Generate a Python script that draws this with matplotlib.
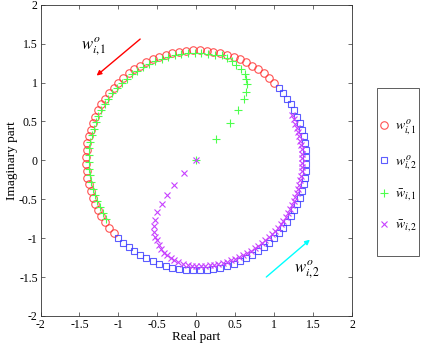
import numpy as np
import matplotlib
matplotlib.use("Agg")
import matplotlib.pyplot as plt
from matplotlib.patches import Rectangle

plt.rcParams['font.family'] = ['Liberation Serif', 'DejaVu Serif']
plt.rcParams['mathtext.fontset'] = 'stix'

# w^o_{i,1}: red circles, polar (deg), radius
wo1_angle = [45, 48.6, 52.2, 55.8, 59.4, 63, 66.6, 70.2, 73.8, 77.4, 81, 84.6, 88.2,
             91.8, 95.4, 99, 102.6, 106.2, 109.8, 113.4, 117, 120.6, 124.2, 127.8,
             131.4, 135, 138.6, 142.2, 145.8, 149.4, 153, 156.6, 160.2, 163.8, 167.4,
             171, 174.6, 178.2, 181.8, 185.4, 189, 192.6, 196.2, 199.8, 203.4, 207,
             210.6, 214.2, 217.8, 221.4]
# w^o_{i,2}: blue squares
wo2_angle = [225, 228.6, 232.2, 235.8, 239.4, 243, 246.6, 250.2, 253.8, 257.4, 261,
             264.6, 268.2, 271.8, 275.4, 279, 282.6, 286.2, 289.8, 293.4, 297, 300.6,
             304.2, 307.8, 311.4, 315, 318.6, 322.2, 325.8, 329.4, 333, 336.6, 340.2,
             343.8, 347.4, 351, 354.6, 358.2, 361.8, 365.4, 369, 372.6, 376.2, 379.8,
             383.4, 387, 390.6, 394.2, 397.8, 401.4]
wo_radius = 1.414

# wbar_{i,1}: green +, start from origin then along the circle
wb1_x = [0, 0.26, 0.43, 0.54, 0.61, 0.64, 0.65, 0.64, 0.62, 0.57, 0.51, 0.46, 0.39, 0.33]
wb1_y = [0, 0.28, 0.48, 0.65, 0.79, 0.88, 0.98, 1.04, 1.11, 1.17, 1.23, 1.28, 1.32, 1.35]
wb1_angle = [80, 83.6, 87.2, 90.8, 94.4, 98, 101.6, 105.2, 108.8, 112.4, 116, 119.6,
             123.2, 126.8, 130.4, 134, 137.6, 141.2, 144.8, 148.4, 152, 155.6, 159.2,
             162.8, 166.4, 170, 173.6, 177.2, 180.8, 184.4, 188, 191.6, 195.2, 198.8,
             202.4, 206, 209.6, 213.2]
wb1_radius = 1.38

# wbar_{i,2}: purple x
wb2_x = [0, -0.16, -0.28, -0.37, -0.44, -0.50, -0.53, -0.54, -0.54, -0.53, -0.51,
         -0.48, -0.45, -0.41, -0.37, -0.33, -0.28, -0.23, -0.17, -0.11, -0.06]
wb2_y = [0, -0.165, -0.315, -0.44, -0.56, -0.67, -0.77, -0.85, -0.92, -0.98, -1.03,
         -1.09, -1.14, -1.19, -1.22, -1.25, -1.28, -1.31, -1.33, -1.34, -1.36]
wb2_angle = [270, 272.4, 274.8, 277.2, 279.6, 282, 284.4, 286.8, 289.2, 291.6, 294,
             296.4, 298.8, 301.2, 303.6, 306, 308.4, 310.8, 313.2, 315.6, 318, 320.4,
             322.8, 325.2, 327.6, 330, 332.4, 334.8, 337.2, 339.6, 342, 344.4, 346.8,
             349.2, 351.6, 354, 356.4, 358.8, 361.2, 363.6, 366, 368.4, 370.8, 373.2,
             375.6, 378, 380.4, 382.8, 385.2]
wb2_radius = 1.36

ticks = [-2, -1.5, -1, -0.5, 0, 0.5, 1, 1.5, 2]
tick_labels = ['-2', '-1.5', '-1', '-0.5', '0', '0.5', '1', '1.5', '2']


def polar(angles, r):
    a = np.deg2rad(angles)
    return r * np.cos(a), r * np.sin(a)


fig = plt.figure(figsize=(4.22, 3.46), dpi=100)
ax = fig.add_axes([0.096, 0.087, 0.738, 0.899])

red = (1.0, 0.2, 0.2)
blue = (0.25, 0.25, 1.0)
green = (0.3, 1.0, 0.3)
purple = (0.78, 0.25, 1.0)

x, y = polar(wo1_angle, wo_radius)
ax.plot(x, y, 'o', mfc='none', mec=red, ms=5.4, mew=0.8, alpha=0.85,
        label=r'$w_{i,1}^o$')
x, y = polar(wo2_angle, wo_radius)
ax.plot(x, y, 's', mfc='none', mec=blue, ms=5.0, mew=0.8, alpha=0.85,
        label=r'$w_{i,2}^o$')
x, y = polar(wb1_angle, wb1_radius)
ax.plot(np.concatenate([wb1_x, x]), np.concatenate([wb1_y, y]), '+', color=green,
        ms=6, mew=0.8, label=r'$\bar{w}_{i,1}$')
x, y = polar(wb2_angle, wb2_radius)
ax.plot(np.concatenate([wb2_x, x]), np.concatenate([wb2_y, y]), 'x', color=purple,
        ms=3.8, mew=0.8, label=r'$\bar{w}_{i,2}$')

# direction arrows
ax.annotate('', xy=(-1.28, 1.09), xytext=(-0.72, 1.56),
            arrowprops=dict(arrowstyle='-|>', color='red', lw=1.0,
                            mutation_scale=7, shrinkA=0, shrinkB=0))
ax.annotate('', xy=(1.46, -1.02), xytext=(0.90, -1.50),
            arrowprops=dict(arrowstyle='-|>', color='cyan', lw=1.0,
                            mutation_scale=7, shrinkA=0, shrinkB=0))
ax.text(-1.31, 1.46, r'$w_{i,1}^o$', fontsize=12, ha='center', va='center')
ax.text(1.42, -1.41, r'$w_{i,2}^o$', fontsize=12, ha='center', va='center')

ax.set_xlim(-2, 2)
ax.set_ylim(-2, 2)
ax.set_xticks(ticks)
ax.set_xticklabels(tick_labels)
ax.set_yticks(ticks)
ax.set_yticklabels(tick_labels)
ax.tick_params(direction='in', top=True, right=True, length=3, width=0.5,
               labelsize=8.5, pad=2, color='#333333')
for s in ax.spines.values():
    s.set_linewidth(0.6)
    s.set_color('#333333')
ax.set_xlabel('Real part', fontsize=9.5, labelpad=0)
ax.set_ylabel('Imaginary part', fontsize=9.5, labelpad=1)

# legend: entries without frame, box drawn separately
leg = fig.legend(loc='center', bbox_to_anchor=(0.944, 0.492), fontsize=10,
                 frameon=False, labelspacing=1.1, handlelength=0.8,
                 handletextpad=0.4, borderpad=0, borderaxespad=0)
fig.patches.append(Rectangle((0.893, 0.260), 0.100, 0.486, transform=fig.transFigure,
                             fill=False, ec='#444444', lw=0.6))

fig.savefig('out.png', dpi=100)
